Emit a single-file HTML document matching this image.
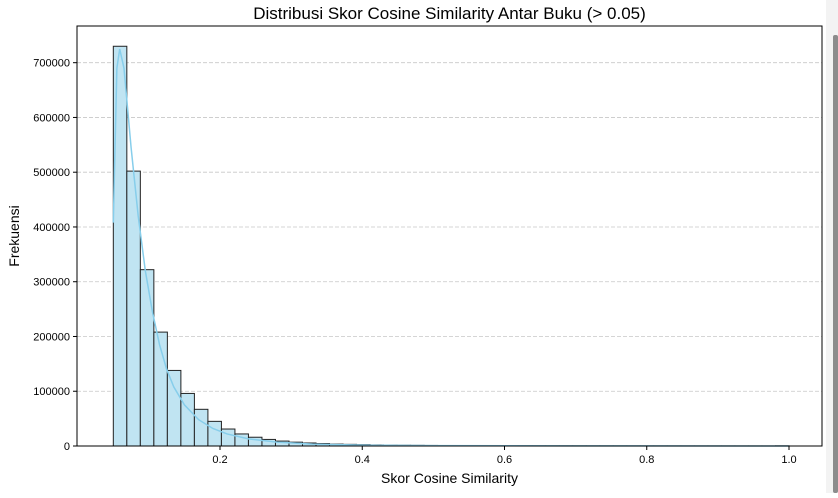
<!DOCTYPE html>
<html><head><meta charset="utf-8"><style>
body{margin:0;background:#fff;width:838px;height:493px;overflow:hidden;font-family:"Liberation Sans","DejaVu Sans",sans-serif}
</style></head><body>
<svg id="c" width="838" height="493">
<rect x="826" y="0" width="12" height="493" fill="#f3f3f3"/>
<rect x="833" y="35" width="5" height="458" rx="2" fill="#8c8c8c"/>
</svg>
<script>
const yTicks=[0,100000,200000,300000,400000,500000,600000,700000];
const xTicks=[0.2,0.4,0.6,0.8,1.0];
const binStart=0.05, binEnd=1.0;
const counts=[730000,502000,322000,208000,138000,96000,67000,45000,31000,22000,16000,12000,9000,7000,5500,4500,3500,3000,2500,2000,1700,1400,1200,1000,900,800,700,600,500,450,400,350,300,280,250,220,200,180,160,150,140,130,120,110,100,100,90,90,80,300];
const kdeX=[0.05,0.055,0.059,0.065,0.075,0.085,0.095,0.105,0.115,0.125,0.135,0.15,0.17,0.19,0.21,0.24,0.28,0.33,0.4,0.5,0.7,1.0];
const kdeY=[408000,690000,725000,690000,545000,420000,320000,245000,185000,140000,108000,75000,48000,32000,22000,13000,7000,3500,1500,600,200,50];
const svg=document.getElementById('c');const NS='http://www.w3.org/2000/svg';
const L=77,R=822,T=26,B=446;
const ymax=767000;
const X=v=>77.75+v*711.25;
const Y=v=>B-v/ymax*(B-T);
function mk(t,a){const e=document.createElementNS(NS,t);for(const k in a)e.setAttribute(k,a[k]);svg.appendChild(e);return e;}
yTicks.forEach(v=>{if(v>0){const g=mk('line',{x1:L,x2:R,y1:Y(v),y2:Y(v),stroke:'#c8c8c8','stroke-dasharray':'4,2','stroke-width':0.8});

}
const t=mk('line',{x1:L-4,x2:L,y1:Y(v),y2:Y(v),stroke:'#000'});


const l=mk('text',{x:L-7,y:Y(v)+4,'text-anchor':'end','font-size':11});l.textContent=String(v);

});
const w=(binEnd-binStart)/counts.length;
counts.forEach((c,i)=>{const x0=X(binStart+i*w),x1=X(binStart+(i+1)*w);
const r=mk('rect',{x:x0,y:Y(c),width:x1-x0,height:B-Y(c),fill:'#c0e4f2',stroke:'#222','stroke-width':1});

});
const p=mk('path',{d:kdeX.map((x,i)=>(i?'L':'M')+X(x)+','+Y(kdeY[i])).join(''),fill:'none',stroke:'#87ceeb','stroke-width':1.5});


xTicks.forEach(v=>{const t=mk('line',{x1:X(v),x2:X(v),y1:B,y2:B+4,stroke:'#000'});


const l=mk('text',{x:X(v),y:B+17,'text-anchor':'middle','font-size':11});l.textContent=v.toFixed(1);

});
const f=mk('rect',{x:L,y:T,width:R-L,height:B-T,fill:'none',stroke:'#000','stroke-width':1});


const tt=mk('text',{x:(L+R)/2,y:19,'text-anchor':'middle','font-size':17});tt.textContent='Distribusi Skor Cosine Similarity Antar Buku (> 0.05)';


const xt=mk('text',{x:(L+R)/2,y:483,'text-anchor':'middle','font-size':14});xt.textContent='Skor Cosine Similarity';


const yt=mk('text',{x:19,y:(T+B)/2,'text-anchor':'middle','font-size':14,transform:`rotate(-90 19 ${(T+B)/2})`});yt.textContent='Frekuensi';


</script>
</body></html>
